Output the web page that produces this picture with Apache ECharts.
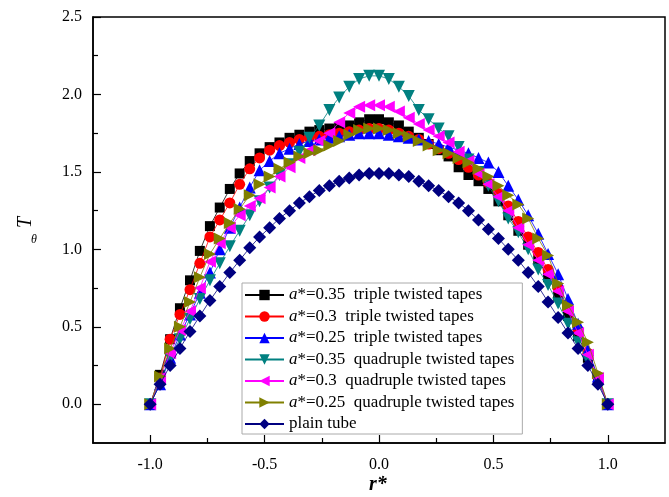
<!DOCTYPE html>
<html>
<head>
<meta charset="utf-8">
<script src="https://cdn.jsdelivr.net/npm/echarts@6/dist/echarts.min.js"></script>
<style>html,body{margin:0;padding:0;background:#fff;}#c{width:669px;height:497px;}</style>
</head>
<body>
<div id="c"></div>
<script>
var rStar = [-1.000,-0.957,-0.913,-0.870,-0.826,-0.783,-0.739,-0.696,-0.652,-0.609,-0.565,-0.522,-0.478,-0.435,-0.391,-0.348,-0.304,-0.261,-0.217,-0.174,-0.130,-0.087,-0.043,0.000,0.043,0.087,0.130,0.174,0.217,0.261,0.304,0.348,0.391,0.435,0.478,0.522,0.565,0.609,0.652,0.696,0.739,0.783,0.826,0.870,0.913,0.957,1.000];

var triple035 = [0,0.19,0.42,0.62,0.80,0.99,1.15,1.27,1.39,1.49,1.57,1.62,1.66,1.69,1.72,1.74,1.76,1.77,1.78,1.79,1.80,1.82,1.84,1.84,1.82,1.80,1.76,1.72,1.68,1.64,1.60,1.53,1.48,1.44,1.39,1.31,1.22,1.12,1.03,0.93,0.82,0.70,0.57,0.44,0.30,0.16,0];
var triple030 = [0,0.17,0.42,0.58,0.74,0.91,1.08,1.19,1.30,1.42,1.52,1.59,1.64,1.67,1.69,1.71,1.72,1.73,1.74,1.75,1.76,1.77,1.78,1.78,1.77,1.75,1.73,1.71,1.68,1.65,1.62,1.58,1.53,1.48,1.43,1.36,1.28,1.18,1.08,0.98,0.87,0.75,0.62,0.48,0.33,0.18,0];
var triple025 = [0,0.13,0.30,0.45,0.58,0.72,0.85,1.00,1.14,1.27,1.40,1.51,1.57,1.62,1.65,1.68,1.70,1.71,1.72,1.73,1.74,1.75,1.75,1.75,1.74,1.73,1.72,1.71,1.70,1.68,1.66,1.64,1.62,1.59,1.56,1.50,1.41,1.32,1.22,1.10,0.97,0.84,0.68,0.52,0.35,0.18,0];
var quad035 = [0,0.15,0.30,0.42,0.55,0.68,0.80,0.91,1.02,1.12,1.22,1.31,1.40,1.48,1.55,1.63,1.72,1.80,1.90,1.98,2.05,2.10,2.12,2.12,2.10,2.05,1.99,1.90,1.84,1.78,1.73,1.66,1.58,1.50,1.41,1.31,1.20,1.11,1.00,0.87,0.77,0.65,0.52,0.40,0.28,0.15,0];
var quad030 = [0,0.17,0.33,0.48,0.60,0.75,0.92,1.04,1.14,1.22,1.28,1.33,1.40,1.47,1.53,1.59,1.64,1.70,1.75,1.82,1.88,1.92,1.93,1.93,1.92,1.89,1.85,1.81,1.77,1.73,1.69,1.63,1.57,1.49,1.42,1.34,1.25,1.14,1.03,0.93,0.84,0.73,0.60,0.46,0.32,0.17,0];
var quad025 = [0,0.18,0.36,0.50,0.66,0.82,0.97,1.07,1.17,1.26,1.35,1.42,1.47,1.52,1.56,1.60,1.62,1.64,1.67,1.70,1.74,1.77,1.78,1.78,1.77,1.75,1.73,1.70,1.67,1.64,1.62,1.59,1.56,1.52,1.47,1.41,1.35,1.29,1.20,1.07,0.96,0.78,0.64,0.53,0.40,0.20,0];
var plainTube = [0,0.13,0.25,0.36,0.47,0.57,0.67,0.76,0.85,0.93,1.01,1.08,1.14,1.20,1.25,1.30,1.34,1.38,1.41,1.44,1.46,1.48,1.49,1.49,1.49,1.48,1.47,1.44,1.41,1.38,1.34,1.30,1.25,1.19,1.13,1.07,1.00,0.93,0.85,0.76,0.66,0.56,0.46,0.36,0.25,0.13,0];

var xMajorTicks = [-1.0,-0.5,0.0,0.5,1.0];
var xMinorTicks = [-0.75,-0.25,0.25,0.75];
var yMajorTicks = [0.0,0.5,1.0,1.5,2.0,2.5];
var yMinorTicks = [0.25,0.75,1.25,1.75,2.25];

var seriesNames = ['s1','s2','s3','s4','s5','s6','s7'];
var seriesLabels = [
  '{i|a}*=0.35  triple twisted tapes',
  '{i|a}*=0.3  triple twisted tapes',
  '{i|a}*=0.25  triple twisted tapes',
  '{i|a}*=0.35  quadruple twisted tapes',
  '{i|a}*=0.3  quadruple twisted tapes',
  '{i|a}*=0.25  quadruple twisted tapes',
  'plain tube'
];
var seriesValues = [triple035, triple030, triple025, quad035, quad030, quad025, plainTube];
var colors = ['#000000','#ff0000','#0000ff','#008080','#ff00ff','#808000','#000080'];
var symbols = ['rect','circle','triangle','triangle','triangle','triangle','diamond'];
var rotations = [0,0,0,180,90,-90,0];
var sizes = [10,11,12,12,12,12,13];

var FONT = '"Liberation Serif","Times New Roman",serif';

function pairs(vals){ return rStar.map(function(r,i){ return [r, vals[i]]; }); }

var series = seriesNames.map(function(n, k){
  return {
    name: n, type: 'line', xAxisIndex: 0, yAxisIndex: 0,
    data: pairs(seriesValues[k]),
    symbol: symbols[k], symbolRotate: rotations[k], symbolSize: sizes[k],
    showAllSymbol: true,
    lineStyle: {color: colors[k], width: 0.8},
    itemStyle: {color: colors[k]},
    emphasis: {disabled: true},
    z: 2 + k
  };
});

function tickAxisX(custom, len, labels, line){
  return {
    type: 'value', min: -1.25, max: 1.25, interval: 0.25, position: 'bottom',
    axisLine: {show: line, onZero: false, lineStyle: {color: '#000', width: 1.5}},
    axisTick: {show: true, inside: true, length: len, customValues: custom, lineStyle: {color: '#000', width: 1.2}},
    axisLabel: labels ? {show: true, customValues: xMajorTicks, margin: 14, color: '#000', fontFamily: FONT, fontSize: 16, formatter: function(v){ return v.toFixed(1); }} : {show: false},
    splitLine: {show: false}
  };
}
function tickAxisY(custom, len, labels, line){
  return {
    type: 'value', min: -0.25, max: 2.5, interval: 0.25, position: 'left',
    axisLine: {show: line, onZero: false, lineStyle: {color: '#000', width: 1.5}},
    axisTick: {show: true, inside: true, length: len, customValues: custom, lineStyle: {color: '#000', width: 1.2}},
    axisLabel: labels ? {show: true, customValues: yMajorTicks, margin: 11, color: '#000', fontFamily: FONT, fontSize: 16, formatter: function(v){ return v.toFixed(1); }} : {show: false},
    splitLine: {show: false}
  };
}

var chart = echarts.init(document.getElementById('c'), null, {renderer: 'canvas'});
chart.setOption({
  animation: false,
  backgroundColor: '#fff',
  grid: {left: 93, right: 4, top: 17, bottom: 54, outerBoundsMode: 'none', containLabel: false, show: true, borderColor: '#000', borderWidth: 1.5, backgroundColor: 'transparent'},
  xAxis: [tickAxisX(xMajorTicks, 8, true, true), tickAxisX(xMinorTicks, 5, false, false)],
  yAxis: [tickAxisY(yMajorTicks, 8, true, true), tickAxisY(yMinorTicks, 5, false, false)],
  legend: {
    orient: 'vertical', left: 242, top: 283,
    data: seriesNames,
    itemWidth: 39, itemHeight: 13, itemGap: 3.5,
    padding: [3, 8, 1, 2],
    borderColor: '#aaa', borderWidth: 1, backgroundColor: '#fff',
    inactiveColor: '#000',
    selectedMode: false,
    formatter: function(name){ return seriesLabels[seriesNames.indexOf(name)]; },
    textStyle: {
      fontFamily: FONT, fontSize: 17, color: '#000', lineHeight: 18,
      rich: {i: {fontFamily: FONT, fontSize: 17, fontStyle: 'italic', color: '#000', lineHeight: 18}}
    }
  },
  graphic: [
    {type: 'text', left: 16, top: 217, rotation: Math.PI/2, style: {text: 'T', font: 'italic 20px ' + FONT, fill: '#000'}},
    {type: 'text', left: 31, top: 234, style: {text: 'θ', font: 'italic 12px ' + FONT, fill: '#000'}},
    {type: 'text', left: 369, top: 475, style: {text: 'r*', font: 'italic bold 20px ' + FONT, fill: '#000'}}
  ],
  series: series
});
</script>
</body>
</html>
